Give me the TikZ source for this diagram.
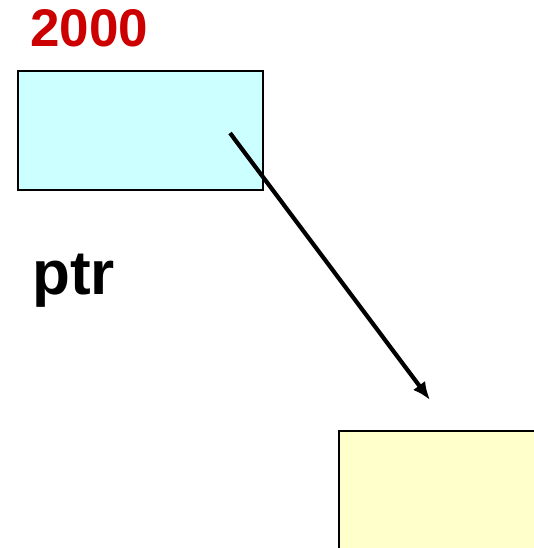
\documentclass[tikz,border=0pt]{standalone}
\usepackage{fontspec}
\setmainfont{Liberation Sans}
\usetikzlibrary{arrows.meta,positioning}
\definecolor{cellcyan}{HTML}{CCFFFF}
\definecolor{cellyellow}{HTML}{FFFFCC}
\definecolor{addrred}{HTML}{CC0000}
\tikzset{
	cell/.style={draw=black,line width=2pt,anchor=north west,inner sep=0pt},
	ptrarrow/.style={line width=4.2pt,-{Latex[length=18pt,width=15pt]}}
}

\begin{document}
\begin{tikzpicture}[x=1pt,y=-1pt]
				\useasboundingbox (0,0) rectangle (533,548);
				% the pointer variable and its address
				\node[cell,fill=cellcyan,minimum width=245pt,minimum height=119pt] (ptrbox) at (17,70) {};
				\node[anchor=base west,text=addrred,font=\bfseries\fontsize{53}{53}\selectfont,inner sep=0pt] (addr) at (30,47) {2000};
				\node[anchor=base west,font=\bfseries\fontsize{62}{62}\selectfont,inner sep=0pt] (ptrname) at (32,294) {ptr};
				% the cell it points at
				\node[cell,fill=cellyellow,minimum width=220pt,minimum height=140pt] (target) at (338,430) {};
				\coordinate (from) at (230,133);
				\coordinate (to) at (430,400);
				\draw[ptrarrow] (from) to (to);
	\end{tikzpicture}
\end{document}
